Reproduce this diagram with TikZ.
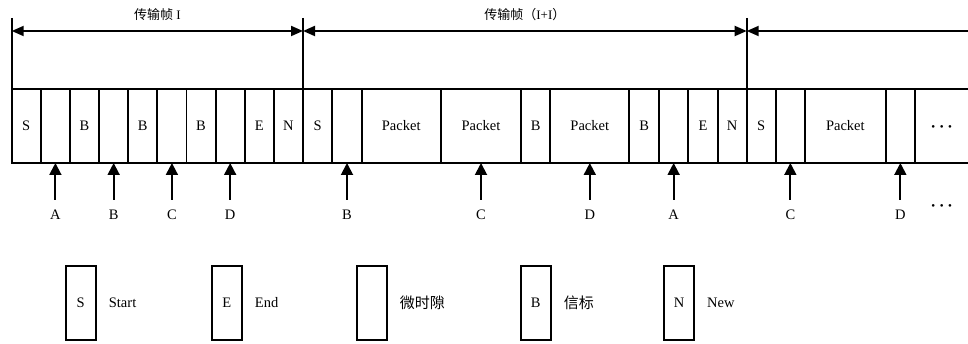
\documentclass[tikz,border=0pt]{standalone}
\usepackage{fontspec}
\setmainfont{Liberation Serif}
\newfontfamily\cjk{Noto Sans CJK SC}
\usepackage{tikz}
\usetikzlibrary{arrows.meta,positioning}
\tikzstyle{cell} = [draw, line width=1.9pt, minimum height=74pt, inner sep=0pt, outer sep=0pt]
\tikzstyle{legendbox} = [cell, minimum width=30pt]
\tikzstyle{pointer} = [line width=1.9pt, -{Triangle[length=12pt,width=12pt]}, shorten <=10pt]
\tikzstyle{framespan} = [line width=1.9pt, {Triangle[length=12pt,width=10pt]}-{Triangle[length=12pt,width=10pt]}]
\tikzstyle{frametick} = [line width=1.9pt]
\newcommand{\moredots}{\fontsize{11}{12}\selectfont\textbullet\hspace{4.5pt}\textbullet\hspace{4.5pt}\textbullet}

\begin{document}
\begin{tikzpicture}[x=1pt, y=-1pt, font=\fontsize{14.5}{17}\selectfont]
			\useasboundingbox (0,0) rectangle (968,344);
			\foreach \l/\r/\t [count=\i] in {11.7/40.83/S, 40.83/69.96/{}, 69.96/99.09/B, 99.09/128.22/{}, 128.22/157.35/B, 157.35/186.48/{}, 186.48/215.61/B, 215.61/244.74/{}, 244.74/273.87/E, 273.87/303/N,
				303/332.3/S, 332.3/361.7/{}, 361.7/440.7/Packet, 440.7/521.3/Packet, 521.3/550.3/B, 550.3/629.3/Packet, 629.3/659/B, 659/688.3/{}, 688.3/717.7/E, 717.7/746.7/N,
				746.7/775.7/S, 775.7/805/{}, 805/885.7/Packet, 885.7/915/{}}
				\node[cell, minimum width={(\r-\l)*1pt}] (c\i) at ({(\l+\r)/2},126) {\t};
			\coordinate (e1) at (968,89);
			\coordinate (e2) at (968,163);
			\draw[frametick] (c24.north east) -- (e1);
			\draw[frametick] (c24.south east) -- (e2);
			\node (more1) at (941.7,128) {\moredots};
			\node (more2) at (941.7,206.7) {\moredots};
			\foreach \c/\t in {2/A, 4/B, 6/C, 8/D, 12/B, 14/C, 16/D, 18/A, 22/C, 24/D}{
				\node[below=47pt of c\c, inner sep=0pt] (m\c) {\t};
				\draw[pointer] (m\c) -- (c\c);
			}
			\coordinate (t0) at (11.7,18);
			\coordinate (t1) at (303,18);
			\coordinate (t2) at (746.7,18);
			\coordinate (s0) at (11.7,31);
			\coordinate (s1) at (303,31);
			\coordinate (s2) at (746.7,31);
			\coordinate (s3) at (968,31);
			\draw[frametick] (t0) -- (c1.north west);
			\draw[frametick] (t1) -- (c11.north west);
			\draw[frametick] (t2) -- (c21.north west);
			\draw[framespan] (s0) -- node[above=9pt, inner sep=0pt, font=\fontsize{13}{15}\selectfont] (f1) {{\cjk 传输帧} I} (s1);
			\draw[framespan] (s1) -- node[above=9pt, inner sep=0pt, font=\fontsize{13}{15}\selectfont] (f2) {{\cjk 传输帧（}I+I{\cjk ）}} (s2);
			\draw[framespan, {Triangle[length=12pt,width=10pt]}-] (s2) -- (s3);
			\node[legendbox] (k1) at (80.7,303) {S};
			\node[legendbox] (k2) at (226.7,303) {E};
			\node[legendbox] (k3) at (371.7,303) {};
			\node[legendbox] (k4) at (535.7,303) {B};
			\node[legendbox] (k5) at (679,303) {N};
			\node[right=13pt of k1, inner sep=0pt] (d1) {Start};
			\node[right=13pt of k2, inner sep=0pt] (d2) {End};
			\node[right=13pt of k3, inner sep=0pt, font=\cjk\fontsize{15}{18}\selectfont] (d3) {微时隙};
			\node[right=13pt of k4, inner sep=0pt, font=\cjk\fontsize{15}{18}\selectfont] (d4) {信标};
			\node[right=13pt of k5, inner sep=0pt] (d5) {New};
		\end{tikzpicture}
\end{document}
